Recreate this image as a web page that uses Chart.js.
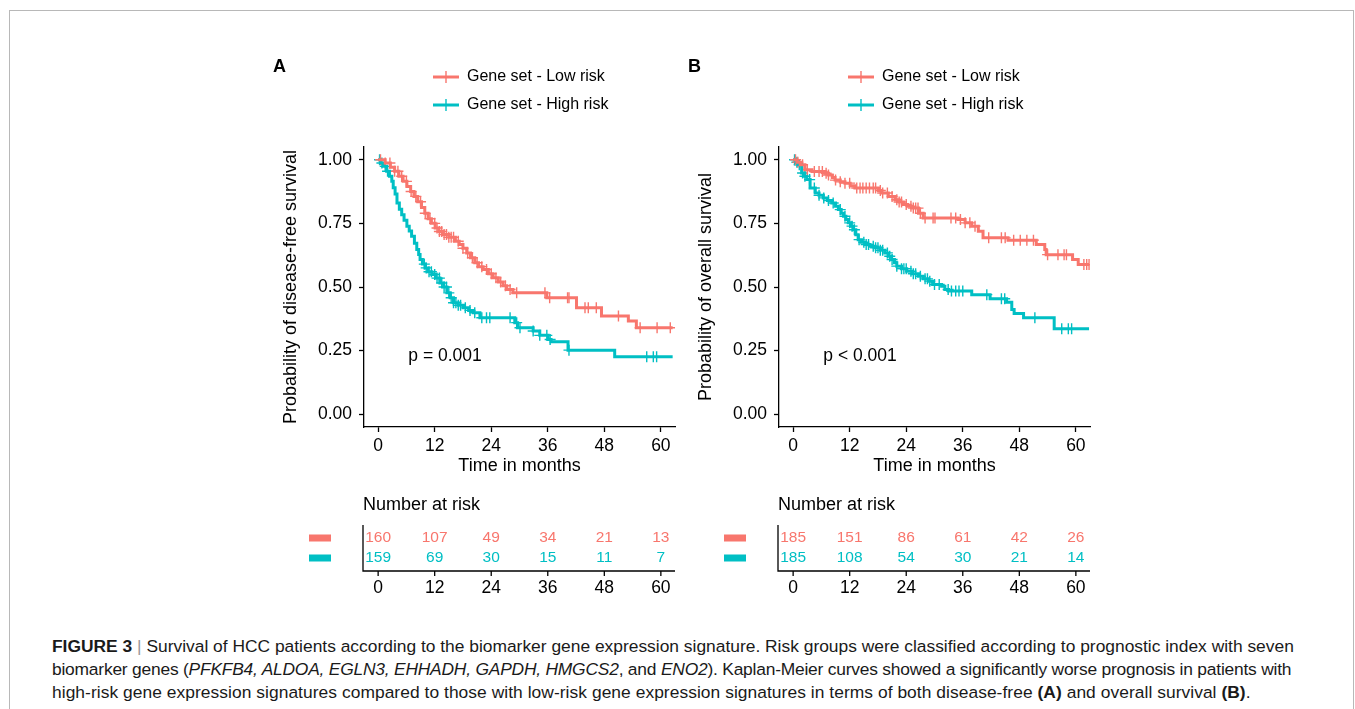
<!DOCTYPE html>
<html>
<head>
<meta charset="utf-8">
<script src="https://cdn.jsdelivr.net/npm/chart.js@4.4.1/dist/chart.umd.min.js"></script>
<style>
  html, body { margin: 0; padding: 0; background: #fff; overflow: hidden; }
  body { width: 1355px; height: 709px; position: relative; font-family: "Liberation Sans", Arial, sans-serif; }
  #frame { position: absolute; left: 9px; top: 10px; width: 1343px; height: 760px; border: 1px solid #b8b8b8; }
  .panel { position: absolute; top: 40px; width: 430px; height: 570px; }
  #panelA { left: 260px; }
  #panelB { left: 675px; }
  #caption { position: absolute; left: 52px; top: 635px; font-size: 17.4px; line-height: 23px; color: #1a1a1a; white-space: nowrap; }
  #caption .bar { color: #999; }
  #caption .l2 { letter-spacing: -0.21px; }
  #caption .l3 { letter-spacing: 0.05px; }
</style>
</head>
<body>
<div id="frame"></div>
<canvas id="panelA" class="panel" width="430" height="570"></canvas>
<canvas id="panelB" class="panel" width="430" height="570"></canvas>
<div id="caption"><b>FIGURE 3</b> <span class="bar">|</span> Survival of HCC patients according to the biomarker gene expression signature. Risk groups were classified according to prognostic index with seven<br><span class="l2">biomarker genes (<i>PFKFB4, ALDOA, EGLN3, EHHADH, GAPDH, HMGCS2</i>, and <i>ENO2</i>). Kaplan-Meier curves showed a significantly worse prognosis in patients with</span><br><span class="l3">high-risk gene expression signatures compared to those with low-risk gene expression signatures in terms of both disease-free <b>(A)</b> and overall survival <b>(B)</b>.</span></div>

<script>
// axis ticks
const months = [0, 12, 24, 36, 48, 60];
const survTicks = [0, 0.25, 0.5, 0.75, 1];
const groupLabels = ['Gene set - Low risk', 'Gene set - High risk'];
const lowColor = '#F8766D';
const highColor = '#00BFC4';

// A: disease-free survival
const dfsLowTime = [0, 1.5, 2.6, 3.5, 4.4, 5.3, 6.1, 6.9, 7.6, 8.4, 9.2, 9.9, 10.6, 11.3, 12.1, 12.9, 13.8, 15.0, 16.4, 17.2, 18.0, 18.8, 19.6, 20.5, 21.3, 22.3, 23.4, 24.4, 25.5, 26.5, 27.3, 28.6, 35.8, 42.1, 47.4, 53.1, 54.8, 62.5];
const dfsLowSurv = [1, 0.987, 0.97, 0.955, 0.935, 0.915, 0.895, 0.875, 0.856, 0.835, 0.812, 0.79, 0.768, 0.75, 0.732, 0.718, 0.706, 0.695, 0.68, 0.667, 0.652, 0.634, 0.615, 0.595, 0.58, 0.569, 0.552, 0.536, 0.52, 0.505, 0.49, 0.477, 0.458, 0.418, 0.386, 0.366, 0.34, 0.34];
const dfsLowCensor = [0.5, 1.5, 2.5, 3.5, 4.2, 5, 6, 7, 8, 9, 10, 11, 12, 12.5, 13, 13.5, 14, 14.5, 15, 15.5, 16, 17, 18, 19, 20, 21, 22, 23, 24, 25, 26, 27, 28, 29.4, 35.4, 36.4, 40.2, 40.5, 43.9, 44.6, 46.3, 51, 55.6, 59.2, 62];
const dfsHighTime = [0, 0.5, 1.1, 1.8, 2.4, 2.9, 3.2, 3.6, 4.0, 4.5, 5.0, 5.5, 6.1, 6.6, 7.1, 7.7, 8.2, 8.6, 8.9, 9.4, 10.0, 10.6, 11.4, 12.2, 13.1, 13.9, 14.6, 15.3, 16.0, 17.0, 18.1, 19.2, 20.2, 21.6, 29.0, 29.6, 32.9, 34.3, 36.1, 36.7, 40.3, 50.2, 62.5];
const dfsHighSurv = [1, 0.987, 0.974, 0.955, 0.935, 0.915, 0.89, 0.865, 0.83, 0.805, 0.784, 0.762, 0.739, 0.72, 0.699, 0.672, 0.647, 0.628, 0.608, 0.59, 0.575, 0.56, 0.549, 0.535, 0.516, 0.5, 0.477, 0.458, 0.438, 0.428, 0.418, 0.408, 0.399, 0.379, 0.36, 0.34, 0.327, 0.31, 0.294, 0.285, 0.252, 0.226, 0.226];
const dfsHighCensor = [0.3, 0.8, 1.5, 2, 9.8, 10.2, 10.8, 11.3, 12, 12.5, 13, 13.5, 14, 14.5, 15, 15.5, 16, 16.5, 17, 17.5, 18.5, 19.5, 20.5, 22, 23, 23.7, 28, 29.4, 30.1, 32.9, 34.3, 35.8, 36.5, 40.5, 57, 58.4, 59.1];
const dfsRiskLow = [160, 107, 49, 34, 21, 13];
const dfsRiskHigh = [159, 69, 30, 15, 11, 7];

// B: overall survival
const osLowTime = [0, 0.8, 1.5, 2.5, 4.0, 6.8, 7.5, 8.3, 8.9, 10.0, 11.0, 12.1, 13.1, 18.1, 18.8, 20.2, 21.6, 22.5, 23.4, 24.3, 25.2, 26.6, 27.6, 35.0, 36.5, 37.9, 39.3, 40.3, 45.6, 51.6, 53.4, 53.7, 59.3, 60.5, 62.8];
const osLowSurv = [1, 0.99, 0.98, 0.961, 0.954, 0.947, 0.94, 0.93, 0.92, 0.913, 0.908, 0.898, 0.889, 0.879, 0.869, 0.856, 0.843, 0.834, 0.824, 0.817, 0.81, 0.79, 0.771, 0.765, 0.752, 0.739, 0.719, 0.693, 0.684, 0.667, 0.647, 0.627, 0.608, 0.588, 0.588];
const osLowCensor = [0.5, 1, 2, 3, 4.5, 5.5, 6.2, 7, 7.5, 9, 10, 11, 12, 13.5, 14.2, 14.8, 15.5, 16.2, 17, 17.5, 18.5, 19, 20, 21, 22, 22.5, 23, 24, 25, 25.5, 26, 26.5, 27, 28, 29.7, 30.1, 33.5, 34.5, 35.5, 36.5, 37.5, 38.6, 41.5, 44.2, 45, 46.8, 48.2, 49.6, 51, 54, 56.2, 57.5, 58, 61.7, 62.3, 62.8];
const osHighTime = [0, 0.6, 1.1, 1.8, 2.4, 2.9, 3.6, 4.7, 5.5, 6.4, 7.3, 8.2, 9.0, 9.6, 10.2, 10.7, 11.2, 11.7, 12.3, 12.8, 13.3, 13.8, 14.5, 15.3, 16.3, 17.4, 18.5, 19.5, 20.2, 20.9, 21.5, 22.0, 23.0, 24.1, 25.3, 26.6, 27.6, 28.7, 29.6, 31.5, 32.2, 33.0, 37.9, 41.8, 45.3, 46.4, 46.9, 48.9, 55.4, 62.8];
const osHighSurv = [1, 0.99, 0.98, 0.948, 0.935, 0.922, 0.889, 0.869, 0.86, 0.85, 0.84, 0.83, 0.817, 0.804, 0.79, 0.778, 0.765, 0.752, 0.739, 0.725, 0.705, 0.686, 0.676, 0.667, 0.66, 0.654, 0.644, 0.634, 0.621, 0.608, 0.595, 0.582, 0.572, 0.562, 0.552, 0.542, 0.532, 0.523, 0.51, 0.503, 0.49, 0.484, 0.47, 0.454, 0.44, 0.412, 0.396, 0.379, 0.336, 0.336];
const osHighCensor = [0.3, 0.8, 1.3, 2, 2.5, 3.5, 4.5, 5.5, 6.5, 7.5, 8.5, 10, 11, 12, 12.5, 13, 14, 15, 15.5, 16, 17, 17.5, 18, 18.5, 19, 20, 20.5, 21, 22, 23, 23.5, 24, 25, 25.5, 26, 27, 28, 28.5, 29, 30, 31, 32.9, 33.6, 34.5, 35.2, 36, 41.1, 44.2, 44.9, 51.3, 57, 58.4, 59.1];
const osRiskLow = [185, 151, 86, 61, 42, 26];
const osRiskHigh = [185, 108, 54, 30, 21, 14];

Chart.defaults.font.family = '"Liberation Sans", Arial, sans-serif';
Chart.defaults.color = '#000';

// value of the step curve at time t
function survAt(times, surv, t) {
    let v = surv[0];
    for (let i = 0; i < times.length; i++) {
        if (times[i] <= t) v = surv[i];
    }
    return v;
}

function stepData(times, surv) {
    return times.map((t, i) => ({ x: t, y: surv[i] }));
}

function censorData(times, surv, cens) {
    return cens.map(t => ({ x: t, y: survAt(times, surv, t) }));
}

// letter, legend, p value and the number-at-risk table
const kmExtras = {
    id: 'kmExtras',
    afterDraw(chart, args, opts) {
        const { ctx, chartArea: area, scales: { x, y } } = chart;
        const colors = [lowColor, highColor];
        ctx.save();
        ctx.textBaseline = 'middle';

        ctx.fillStyle = '#000';
        ctx.textAlign = 'left';
        ctx.font = 'bold 18px "Liberation Sans", Arial, sans-serif';
        ctx.fillText(opts.letter, area.left - 91, 27);

        // legend
        ctx.font = '16px "Liberation Sans", Arial, sans-serif';
        groupLabels.forEach((lab, i) => {
            const ly = 37 + i * 28;
            const lx = area.left + 69;
            ctx.strokeStyle = colors[i];
            ctx.lineWidth = 3;
            ctx.beginPath();
            ctx.moveTo(lx, ly);
            ctx.lineTo(lx + 26, ly);
            ctx.stroke();
            ctx.lineWidth = 1.4;
            ctx.beginPath();
            ctx.moveTo(lx + 13, ly - 6);
            ctx.lineTo(lx + 13, ly + 6);
            ctx.stroke();
            ctx.fillStyle = '#000';
            ctx.fillText(lab, lx + 34, ly);
        });

        // p value
        ctx.font = '17.5px "Liberation Sans", Arial, sans-serif';
        ctx.fillText(opts.pText, x.getPixelForValue(opts.pAt[0]), y.getPixelForValue(opts.pAt[1]));

        // number at risk
        const base = area.bottom;
        ctx.font = '18px "Liberation Sans", Arial, sans-serif';
        ctx.fillText('Number at risk', area.left - 1, base + 78);

        const rows = [opts.riskLow, opts.riskHigh];
        ctx.textAlign = 'center';
        ctx.font = '15.5px "Liberation Sans", Arial, sans-serif';
        rows.forEach((row, i) => {
            const ry = base + 111 + i * 20;
            ctx.fillStyle = colors[i];
            ctx.fillRect(area.left - 55, ry - 3.5, 22, 7);
            row.forEach((n, j) => {
                ctx.fillText(String(n), x.getPixelForValue(months[j]), ry);
            });
        });

        // table axes
        ctx.strokeStyle = '#000';
        ctx.lineWidth = 1.3;
        ctx.beginPath();
        ctx.moveTo(area.left - 1, base + 98);
        ctx.lineTo(area.left - 1, base + 144);
        ctx.lineTo(area.right, base + 144);
        ctx.stroke();
        ctx.fillStyle = '#000';
        ctx.font = '17.5px "Liberation Sans", Arial, sans-serif';
        months.forEach(m => {
            const px = x.getPixelForValue(m);
            ctx.beginPath();
            ctx.moveTo(px, base + 144);
            ctx.lineTo(px, base + 149);
            ctx.stroke();
            ctx.fillText(String(m), px, base + 161);
        });
        ctx.restore();
    }
};

function makePanel(id, p) {
    const datasets = [
        { data: stepData(p.lowTime, p.lowSurv), borderColor: lowColor, borderWidth: 3, stepped: true, pointRadius: 0, fill: false },
        { data: stepData(p.highTime, p.highSurv), borderColor: highColor, borderWidth: 3, stepped: true, pointRadius: 0, fill: false },
        { data: censorData(p.lowTime, p.lowSurv, p.lowCensor), showLine: false, pointStyle: 'cross', pointRadius: 5.5, pointBorderWidth: 1.4, pointBorderColor: lowColor },
        { data: censorData(p.highTime, p.highSurv, p.highCensor), showLine: false, pointStyle: 'cross', pointRadius: 5.5, pointBorderWidth: 1.4, pointBorderColor: highColor }
    ];
    return new Chart(document.getElementById(id), {
        type: 'line',
        data: { datasets: datasets },
        options: {
            responsive: false,
            animation: false,
            events: [],
            layout: { padding: { top: 107, right: 15, bottom: 123, left: 0 } },
            plugins: {
                legend: { display: false },
                tooltip: { enabled: false },
                kmExtras: p.extras
            },
            scales: {
                x: {
                    type: 'linear',
                    min: -3,
                    max: 63,
                    afterBuildTicks: s => { s.ticks = months.map(v => ({ value: v })); },
                    afterFit: s => { s.height = 60; },
                    ticks: { color: '#000', font: { size: 17.5 }, padding: 4, autoSkip: false, maxRotation: 0, callback: v => String(v) },
                    grid: { drawOnChartArea: false, tickLength: 5, color: '#000', tickWidth: 1.3 },
                    border: { color: '#000', width: 1.3 },
                    title: { display: true, text: 'Time in months', color: '#000', font: { size: 18 }, padding: { top: 0, bottom: 10 } }
                },
                y: {
                    min: -0.05,
                    max: 1.05,
                    afterBuildTicks: s => { s.ticks = survTicks.map(v => ({ value: v })); },
                    afterFit: s => { s.width = 104; },
                    ticks: { color: '#000', font: { size: 17.5 }, padding: 7, callback: v => Number(v).toFixed(2) },
                    grid: { drawOnChartArea: false, tickLength: 5, color: '#000', tickWidth: 1.3 },
                    border: { color: '#000', width: 1.3 },
                    title: { display: true, text: p.yTitle, color: '#000', font: { size: 18 }, padding: { top: 20, bottom: 0 } }
                }
            }
        },
        plugins: [kmExtras]
    });
}

makePanel('panelA', {
    lowTime: dfsLowTime, lowSurv: dfsLowSurv, lowCensor: dfsLowCensor,
    highTime: dfsHighTime, highSurv: dfsHighSurv, highCensor: dfsHighCensor,
    yTitle: 'Probability of disease-free survival',
    extras: { letter: 'A', pText: 'p = 0.001', pAt: [6.4, 0.227], riskLow: dfsRiskLow, riskHigh: dfsRiskHigh }
});

makePanel('panelB', {
    lowTime: osLowTime, lowSurv: osLowSurv, lowCensor: osLowCensor,
    highTime: osHighTime, highSurv: osHighSurv, highCensor: osHighCensor,
    yTitle: 'Probability of overall survival',
    extras: { letter: 'B', pText: 'p < 0.001', pAt: [6.4, 0.227], riskLow: osRiskLow, riskHigh: osRiskHigh }
});
</script>
</body>
</html>
